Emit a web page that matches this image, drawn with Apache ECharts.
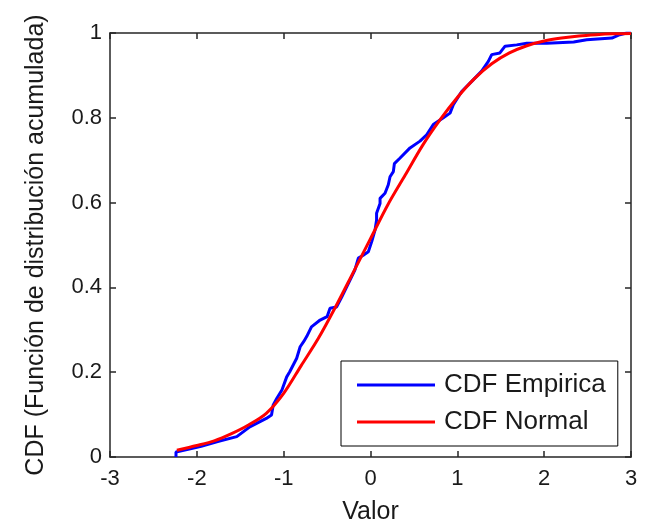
<!DOCTYPE html>
<html>
<head>
<meta charset="utf-8">
<script src="https://cdn.jsdelivr.net/npm/echarts@6/dist/echarts.min.js"></script>
<style>html,body{margin:0;padding:0;background:#fff}#c{width:650px;height:525px}</style>
</head>
<body>
<div id="c"></div>
<script>
const empX = [-2.24, -2.24, -2.1, -1.95, -1.77, -1.54, -1.39, -1.20, -1.14, -1.12, -1.08, -1.02, -0.965, -0.93, -0.85, -0.81, -0.77, -0.735, -0.68, -0.58, -0.50, -0.466, -0.39, -0.33, -0.236, -0.18, -0.14, -0.083, -0.025, 0.014, 0.052, 0.07, 0.07, 0.11, 0.11, 0.167, 0.205, 0.225, 0.263, 0.275, 0.335, 0.455, 0.57, 0.647, 0.723, 0.839, 0.916, 0.954, 1.05, 1.166, 1.28, 1.357, 1.396, 1.49, 1.55, 1.684, 1.80, 2.03, 2.34, 2.49, 2.78, 2.87, 2.95, 3.0];
const empY = [0.0, 0.012, 0.018, 0.025, 0.036, 0.048, 0.071, 0.091, 0.099, 0.123, 0.138, 0.158, 0.189, 0.201, 0.233, 0.26, 0.272, 0.284, 0.307, 0.323, 0.331, 0.351, 0.354, 0.378, 0.417, 0.441, 0.469, 0.476, 0.484, 0.508, 0.535, 0.559, 0.575, 0.598, 0.61, 0.622, 0.642, 0.661, 0.673, 0.692, 0.704, 0.729, 0.745, 0.760, 0.784, 0.80, 0.811, 0.831, 0.862, 0.886, 0.91, 0.933, 0.949, 0.953, 0.969, 0.972, 0.976, 0.976, 0.979, 0.984, 0.988, 0.996, 1.0, 1.0];
// Normal CDF (red)
const normX = [-2.23, -2.0, -1.8, -1.6, -1.4, -1.2, -1.0, -0.8, -0.6, -0.4, -0.2, 0.0, 0.2, 0.4, 0.6, 0.8, 1.0, 1.2, 1.4, 1.6, 1.8, 2.0, 2.2, 2.4, 2.6, 2.8, 3.0];
const normY = [0.016, 0.027, 0.038, 0.055, 0.076, 0.103, 0.150, 0.215, 0.28, 0.355, 0.435, 0.515, 0.595, 0.665, 0.735, 0.795, 0.848, 0.893, 0.928, 0.953, 0.970, 0.981, 0.988, 0.993, 0.996, 0.998, 0.999];
const seriesNames = ['CDF Empirica', 'CDF Normal'];
const xTicks = [-3, -2, -1, 0, 1, 2, 3];
const yTicks = [0, 0.2, 0.4, 0.6, 0.8, 1];
const xName = 'Valor';
const yName = 'CDF (Función de distribución acumulada)';

const FONT = '"Liberation Sans", Arial, sans-serif';
const TXT = '#1a1a1a';
const chart = echarts.init(document.getElementById('c'), null, {renderer: 'canvas'});
const zip = (a, b) => a.map((v, i) => [v, b[i]]);
const lineStyleAxis = {show: true, onZero: false, lineStyle: {color: '#262626', width: 1.5}};
const tickIn = {show: true, inside: true, length: 6, lineStyle: {color: '#262626', width: 1.5}};
const fmtY = v => (yTicks.indexOf(v) >= 0 ? String(v) : '');
const fmtX = v => (xTicks.indexOf(v) >= 0 ? String(v) : '');

chart.setOption({
  animation: false,
  backgroundColor: '#fff',
  textStyle: {fontFamily: FONT, color: TXT},
  grid: {left: 110, right: 19, top: 33, bottom: 68, containLabel: false, outerBoundsMode: 'none'},
  xAxis: [{
    type: 'value', min: xTicks[0], max: xTicks[xTicks.length - 1], interval: 1,
    position: 'bottom',
    name: xName, nameLocation: 'middle', nameGap: 43,
    nameTextStyle: {fontFamily: FONT, fontSize: 25, color: TXT},
    axisLine: lineStyleAxis, axisTick: tickIn, splitLine: {show: false},
    axisLabel: {formatter: fmtX, fontFamily: FONT, fontSize: 22, color: TXT, margin: 11}
  }, {
    type: 'value', min: xTicks[0], max: xTicks[xTicks.length - 1], interval: 1,
    position: 'top', axisLine: lineStyleAxis, axisTick: tickIn, splitLine: {show: false},
    axisLabel: {show: false}
  }],
  yAxis: [{
    type: 'value', min: 0, max: 1, interval: 0.2,
    position: 'left',
    name: yName, nameLocation: 'middle', nameGap: 61,
    nameTextStyle: {fontFamily: FONT, fontSize: 25, color: TXT},
    axisLine: lineStyleAxis, axisTick: tickIn, splitLine: {show: false},
    axisLabel: {formatter: fmtY, fontFamily: FONT, fontSize: 22, color: TXT, margin: 8}
  }, {
    type: 'value', min: 0, max: 1, interval: 0.2,
    position: 'right', axisLine: lineStyleAxis, axisTick: tickIn, splitLine: {show: false},
    axisLabel: {show: false}
  }],
  legend: {
    orient: 'vertical', left: 341, top: 361,
    data: seriesNames,
    icon: 'rect', itemWidth: 78, itemHeight: 3, itemGap: 7,
    padding: [9, 12, 9, 16],
    borderColor: '#000', borderWidth: 1, backgroundColor: '#fff',
    textStyle: {fontFamily: FONT, fontSize: 26, color: TXT, lineHeight: 30, padding: [0, 0, 0, 4]}
  },
  series: [{
    name: seriesNames[0], type: 'line', data: zip(empX, empY),
    showSymbol: false, symbol: 'none', lineStyle: {color: '#0000ff', width: 3}, itemStyle: {color: '#0000ff'},
    z: 2
  }, {
    name: seriesNames[1], type: 'line', data: zip(normX, normY), smooth: 0.3,
    showSymbol: false, symbol: 'none', lineStyle: {color: '#ff0000', width: 3}, itemStyle: {color: '#ff0000'},
    z: 3
  }]
});
</script>
</body>
</html>
